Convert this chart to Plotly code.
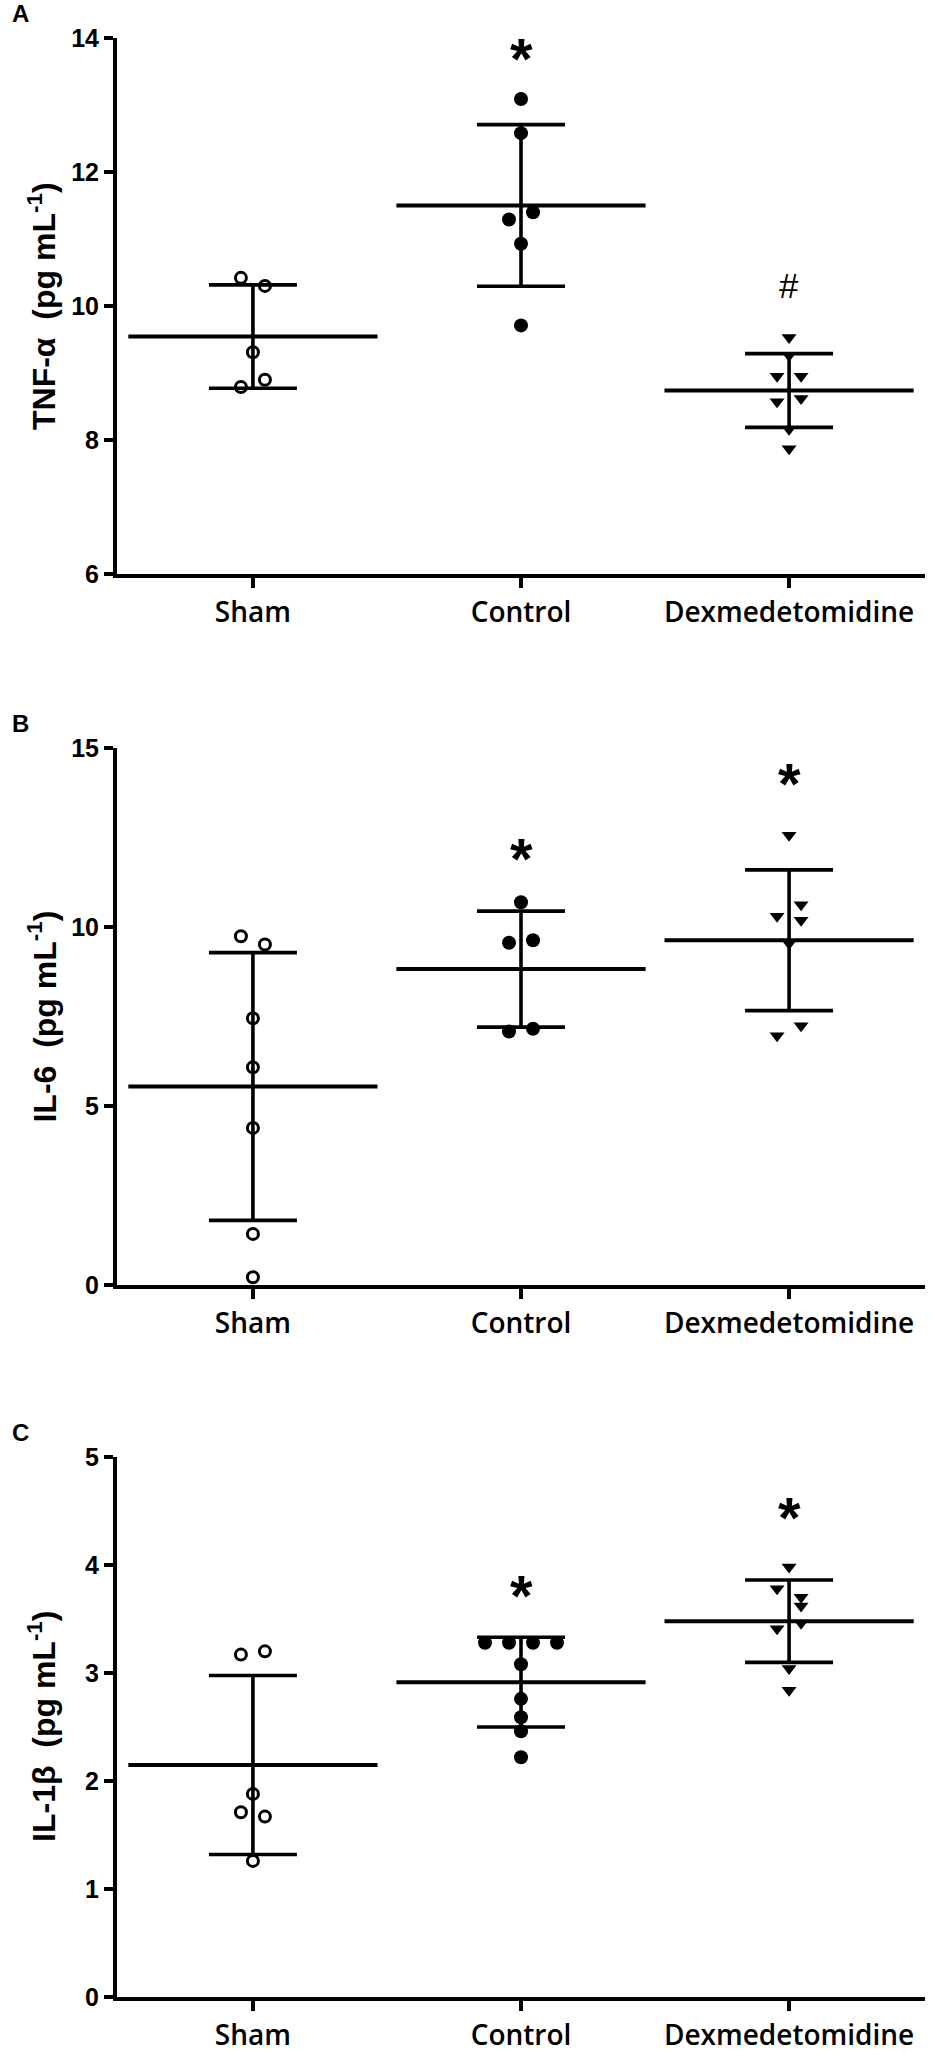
import plotly.graph_objects as go
from plotly.subplots import make_subplots
import statistics

# Data (pg/mL)
groups = ['Sham', 'Control', 'Dexmedetomidine']

tnf_sham = [10.30, 10.42, 9.31, 8.90, 8.79]
tnf_control = [13.09, 12.58, 11.40, 11.29, 10.93, 9.71]
tnf_dex = [9.53, 9.26, 8.95, 8.95, 8.62, 8.57, 8.16, 7.87]

il6_sham = [9.51, 9.74, 7.45, 6.08, 4.39, 1.43, 0.22]
il6_control = [10.69, 9.63, 9.56, 7.16, 7.08]
il6_dex = [12.56, 10.62, 10.30, 10.19, 9.54, 7.24, 6.96]

il1b_sham = [3.20, 3.17, 1.88, 1.67, 1.71, 1.26]
il1b_control = [3.28, 3.28, 3.28, 3.28, 3.08, 2.76, 2.59, 2.46, 2.22]
il1b_dex = [3.98, 3.70, 3.78, 3.62, 3.46, 3.41, 3.04, 2.84]

tnf_ticks = [6, 8, 10, 12, 14]
il6_ticks = [0, 5, 10, 15]
il1b_ticks = [0, 1, 2, 3, 4, 5]

# significance marks: (panel, group index, y, text)
marks = [
    (0, 1, 13.7, '*'), (0, 2, 10.3, '#'),
    (1, 1, 11.9, '*'), (1, 2, 14.0, '*'),
    (2, 1, 3.72, '*'), (2, 2, 4.44, '*'),
]

# Layout
W, H = 937, 2053
L, R, T, B = 117, 12, 38, 56
plot_w = W - L - R
plot_h = H - T - B
xr = [-0.507, 2.507]
px_per_x = plot_w / (xr[1] - xr[0])

panels = [
    dict(data=[tnf_sham, tnf_control, tnf_dex], ticks=tnf_ticks, rng=[6, 14],
         dom=[0.7264, 1.0], title='TNF-α\u00a0 (pg mL<sup>-1</sup>)', letter='A'),
    dict(data=[il6_sham, il6_control, il6_dex], ticks=il6_ticks, rng=[0, 15],
         dom=[0.3634, 0.6376], title='IL-6\u00a0 (pg mL<sup>-1</sup>)', letter='B'),
    dict(data=[il1b_sham, il1b_control, il1b_dex], ticks=il1b_ticks, rng=[0, 5],
         dom=[0.0, 0.2757], title='IL-1β\u00a0 (pg mL<sup>-1</sup>)', letter='C'),
]

symbols = [
    dict(symbol='circle-open', size=11, color='black', line=dict(width=3, color='black')),
    dict(symbol='circle', size=14, color='black'),
    dict(symbol='triangle-down', size=13, color='black'),
]


def spread(values, px_per_unit, gap=13, step=12):
    # scatter-dot style: points closer than a marker get pushed sideways
    order = sorted(range(len(values)), key=lambda i: -values[i])
    clusters = [[order[0]]]
    for a, b in zip(order, order[1:]):
        if (values[a] - values[b]) * px_per_unit < gap:
            clusters[-1].append(b)
        else:
            clusters.append([b])
    offs = [0.0] * len(values)
    for c in clusters:
        if len(c) == 1:
            continue
        c = sorted(c)
        ys = [values[i] for i in c]
        if (max(ys) - min(ys)) * px_per_unit < 2:
            for k, i in enumerate(c):
                offs[i] = (k - (len(c) - 1) / 2) * 2 * step
        else:
            for k, i in enumerate(c):
                offs[i] = step if k % 2 == 0 else -step
    return offs


fig = make_subplots(rows=3, cols=1)

ann = []
for p, panel in enumerate(panels):
    row = p + 1
    dom_px = (panel['dom'][1] - panel['dom'][0]) * plot_h
    px_per_y = dom_px / (panel['rng'][1] - panel['rng'][0])

    means = [statistics.mean(v) for v in panel['data']]
    sds = [statistics.stdev(v) for v in panel['data']]

    # mean line + SD bars
    fig.add_trace(go.Scatter(
        x=[0, 1, 2], y=means, mode='markers',
        marker=dict(symbol='line-ew', size=178, color='black', line=dict(width=4, color='black')),
        error_y=dict(type='data', array=sds, visible=True, color='black', thickness=3.6, width=44),
        cliponaxis=False, showlegend=False, hoverinfo='skip'), row=row, col=1)

    for g, vals in enumerate(panel['data']):
        offs = spread(vals, px_per_y)
        fig.add_trace(go.Scatter(
            x=[g + o / px_per_x for o in offs], y=vals, mode='markers',
            marker=symbols[g], cliponaxis=False, showlegend=False, name=groups[g]),
            row=row, col=1)

    fig.update_yaxes(row=row, col=1, domain=panel['dom'], range=panel['rng'],
                     tickvals=panel['ticks'], showline=True, linecolor='black', linewidth=4,
                     ticks='outside', ticklen=9, tickwidth=4, tickcolor='black',
                     showgrid=False, zeroline=False, automargin=False,
                     tickfont=dict(family='Liberation Sans, Arial', size=25, color='black', weight='bold'))
    fig.update_xaxes(row=row, col=1, range=xr, tickvals=[0, 1, 2], ticktext=groups,
                     showline=True, linecolor='black', linewidth=4,
                     ticks='outside', ticklen=10, tickwidth=4, tickcolor='black',
                     showgrid=False, zeroline=False, automargin=False,
                     tickfont=dict(family='Open Sans', size=28, color='black', weight=600))

    # y title
    ann.append(dict(xref='paper', yref='paper', x=(42 - L) / plot_w,
                    y=sum(panel['dom']) / 2, text=panel['title'], textangle=-90,
                    showarrow=False, xanchor='center', yanchor='middle',
                    font=dict(family='Liberation Sans, Arial', size=32, color='black', weight='bold')))
    # panel letter
    ann.append(dict(xref='paper', yref='paper', x=(20 - L) / plot_w,
                    y=panel['dom'][1] + 24 / plot_h, text=panel['letter'], showarrow=False,
                    xanchor='center', yanchor='middle',
                    font=dict(family='Liberation Sans, Arial', size=24, color='black', weight='bold')))

for p, g, y, txt in marks:
    row = p + 1
    ax = '' if row == 1 else str(row)
    bold = txt == '*'
    ann.append(dict(xref='x' + ax, yref='y' + ax, x=g, y=y, text=txt, showarrow=False,
                    xanchor='center', yanchor='middle',
                    font=dict(family='Liberation Sans, Arial', size=58 if bold else 35, color='black',
                              weight='bold' if bold else 'normal')))

fig.update_layout(width=W, height=H, margin=dict(l=L, r=R, t=T, b=B),
                  plot_bgcolor='white', paper_bgcolor='white', annotations=ann)

# page body has a default 8px margin; drop it so the figure fills the window
fig.write_html("out.html", config={'displayModeBar': False},
               post_script="document.body.style.margin='0';")
